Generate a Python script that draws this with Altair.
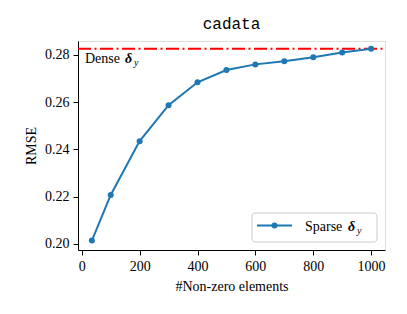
import altair as alt
import pandas as pd

nnz = [35, 100, 200, 300, 400, 500, 600, 700, 800, 900, 1000]
rmse = [0.2014, 0.2207, 0.2435, 0.2587, 0.2684, 0.2736, 0.2760, 0.2773, 0.2790, 0.2810, 0.2826]
dense_rmse = 0.2826
x_ticks = [0, 200, 400, 600, 800, 1000]
y_ticks = [0.20, 0.22, 0.24, 0.26, 0.28]

W, H = 307, 209
SERIF = "Liberation Serif"
BLUE = "#1f77b4"

df = pd.DataFrame({"nnz": nnz, "rmse": rmse})
dense_df = pd.DataFrame({"rmse": [dense_rmse]})

xs = alt.Scale(domain=[-13, 1048], nice=False, zero=False)
ys = alt.Scale(domain=[0.1974, 0.2859], nice=False, zero=False)

xax = alt.Axis(values=x_ticks, format="d", title="#Non-zero elements", labelFont=SERIF)
yax = alt.Axis(values=y_ticks, format=".2f", title="RMSE", labelFont=SERIF)

base = alt.Chart(df)

line = base.mark_line(color=BLUE, strokeWidth=2).encode(
    x=alt.X("nnz:Q", scale=xs, axis=xax),
    y=alt.Y("rmse:Q", scale=ys, axis=yax),
)
pts = base.mark_circle(color=BLUE, size=36, opacity=1).encode(
    x=alt.X("nnz:Q", scale=xs, axis=xax),
    y=alt.Y("rmse:Q", scale=ys, axis=yax),
)
dense = alt.Chart(dense_df).mark_rule(color="red", strokeWidth=2, strokeDash=[13, 3.5, 2, 3.5]).encode(
    x=alt.value(0), x2=alt.value(W),
    y=alt.Y("rmse:Q", scale=ys, axis=yax),
)

def txt(s, x, y, size=14, style="normal", weight="normal"):
    return alt.Chart(dense_df).mark_text(
        text=s, font=SERIF, fontSize=size, fontStyle=style, fontWeight=weight,
        align="left", baseline="alphabetic", color="black"
    ).encode(x=alt.value(x), y=alt.value(y))

# Dense annotation
ann = [
    txt("Dense", 7, 22),
    txt("δ", 47, 22, style="italic", weight="bold"),
    txt("y", 56, 25, size=10, style="italic"),
]

# Manual legend
leg_box = alt.Chart(dense_df).mark_rect(
    fill="white", fillOpacity=0.8, stroke="#cccccc", strokeWidth=1, cornerRadius=3
).encode(x=alt.value(174), x2=alt.value(299), y=alt.value(172), y2=alt.value(201))
leg_line = alt.Chart(dense_df).mark_rule(color=BLUE, strokeWidth=2).encode(
    x=alt.value(179), x2=alt.value(214), y=alt.value(184.5))
leg_pt = alt.Chart(dense_df).mark_circle(color=BLUE, size=36, opacity=1).encode(
    x=alt.value(196.5), y=alt.value(184.5))
leg = [
    leg_box, leg_line, leg_pt,
    txt("Sparse", 227, 190),
    txt("δ", 270, 190, style="italic", weight="bold"),
    txt("y", 279, 193, size=10, style="italic"),
]

chart = alt.layer(dense, line, pts, *ann, *leg).properties(
    width=W, height=H,
    title=alt.TitleParams("cadata", font="Liberation Mono", fontSize=16, fontWeight="normal",
                          color="black", offset=9, anchor="middle"),
    autosize=alt.AutoSizeParams(type="none"),
    padding={"left": 70, "top": 33, "right": 14, "bottom": 56},
).configure_view(stroke="black", strokeWidth=1.2).configure(background="white").configure_axis(
    grid=False, tickSize=5, labelPadding=4, titlePadding=6,
    labelFont=SERIF, titleFont=SERIF, labelFontSize=14, titleFontSize=14,
    titleFontWeight="normal", labelColor="black", titleColor="black",
    tickColor="black", domainColor="black",
)

chart.save("out.html", embed_options={"renderer": "svg", "actions": False})
